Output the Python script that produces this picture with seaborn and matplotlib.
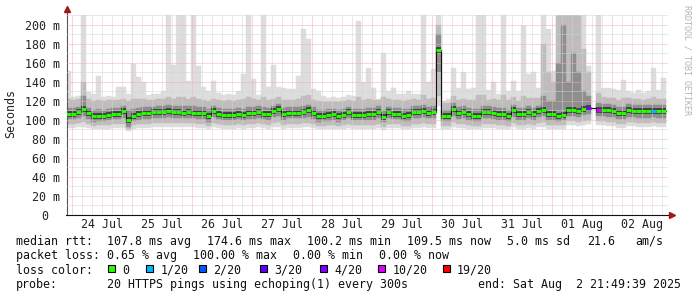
import numpy as np
import pandas as pd
import matplotlib
matplotlib.use("Agg")
import matplotlib.pyplot as plt
import matplotlib.dates as mdates
import matplotlib.transforms as mtransforms
from matplotlib.patches import Rectangle
import seaborn as sns

nan = np.nan

# ---------------- data (2-hour bins starting at 2025-07-23 21:49:39) ----------------
start_time = "2025-07-23 21:49:39"
n_bins = 120

median_ms = [106.5, 106, 108, 112, 107, 103.7, 104.7, 104.7, 105.5, 106,
             106, 109, 100.5, 104.7, 106, 107, 107, 108, 108, 108,
             109.5, 108, 108, 107.5, 108, 107.5, 107, 107, 104, 109.5,
             106.5, 105.5, 105.5, 105.5, 106.5, 105, 107, 107, 108.5, 106.5,
             106, 109.5, 112, 106, 107.5, 107.5, 107.5, 108, 110, 107,
             103.7, 104.7, 105, 106, 103.7, 105.5, 108.5, 105.5, 105.5, 105.5,
             106, 106, 108.5, 103.5, 108.5, 106.5, 106.5, 104.7, 105, 108.5,
             108, 109, 107.5, 108.5, 174, 104.7, 104.7, 112, 107, 108.5,
             106, 104.7, 104, 108, 108, 107, 106, 106, 104, 110,
             106, 106, 108.5, 106, 109, 111, 106, 106, 104.3, 105.5,
             111, 111, 109.5, 112, 113, nan, 111, 110.5, 110, 109,
             107, 107, 110, 109.5, 109, 109, 109, 109.5, 109, 109]

max_ms = [152, 124, 125, 211, 129, 127, 146, 124, 125, 124,
          135, 135, 127, 159, 145, 140, 126, 127, 127, 131,
          211, 158, 211, 211, 141, 211, 157, 135, 130, 141,
          128, 126, 127, 126, 130, 148, 211, 143, 126, 211,
          135, 158, 135, 134, 133, 133, 146, 196, 185, 133,
          130, 125, 123, 124, 123, 124, 126, 125, 204, 140,
          155, 134, 122, 171, 131, 134, 127, 127, 131, 127,
          127, 211, 140, 154, 211, 120, 122, 155, 134, 150,
          133, 134, 211, 211, 132, 140, 127, 211, 130, 141,
          131, 199, 148, 150, 134, 211, 196, 152, 211, 211,
          211, 211, 211, 211, 157, nan, 211, 134, 134, 133,
          132, 142, 130, 128, 132, 128, 130, 155, 132, 144]

p90_ms = [122, 121, 122, 140, 122, 120, 121, 120, 121, 121,
          121, 122, 120, 122, 122, 122, 121, 121, 122, 122,
          124, 122, 124, 124, 122, 124, 122, 121, 120, 122,
          121, 120, 121, 120, 121, 122, 124, 122, 121, 124,
          121, 122, 124, 121, 121, 121, 122, 125, 126, 121,
          120, 119, 119, 119, 119, 120, 121, 120, 124, 121,
          122, 121, 121, 124, 122, 121, 121, 120, 121, 122,
          121, 126, 122, 123, 200, 118, 118, 125, 121, 122,
          121, 121, 126, 126, 121, 122, 121, 126, 121, 124,
          120, 125, 123, 123, 123, 180, 150, 140, 211, 211,
          211, 211, 211, 175, 150, nan, 128, 124, 123, 123,
          121, 123, 123, 122, 122, 121, 122, 124, 122, 122]

p75_ms = [113, 113, 114, 125, 113, 111, 112, 111, 112, 113,
          113, 115, 110, 112, 113, 114, 114, 114, 115, 115,
          116, 115, 115, 115, 115, 115, 114, 114, 112, 115,
          113, 112, 112, 112, 113, 112, 114, 114, 115, 114,
          113, 115, 117, 113, 114, 114, 114, 115, 116, 114,
          111, 111, 112, 112, 111, 112, 114, 112, 112, 112,
          113, 113, 115, 111, 114, 113, 113, 112, 112, 115,
          115, 116, 114, 115, 190, 111, 111, 118, 114, 115,
          113, 112, 112, 115, 115, 114, 113, 113, 111, 116,
          113, 113, 115, 113, 115, 125, 120, 120, 160, 200,
          140, 170, 150, 130, 125, nan, 118, 117, 117, 116,
          114, 114, 117, 116, 116, 116, 116, 116, 116, 116]

p25_ms = [101, 101, 102, 104, 101, 98, 99, 99, 100, 101,
          101, 102, 93, 99, 100, 101, 101, 102, 102, 102,
          103, 102, 102, 102, 102, 102, 101, 101, 98, 103,
          101, 100, 100, 100, 101, 100, 101, 101, 102, 101,
          100, 103, 104, 100, 102, 102, 102, 102, 103, 101,
          98, 99, 99, 100, 98, 100, 102, 100, 100, 100,
          100, 100, 102, 98, 102, 101, 101, 99, 99, 102,
          102, 103, 102, 102, 150, 99, 99, 104, 101, 102,
          100, 99, 99, 102, 102, 101, 100, 100, 99, 103,
          100, 100, 102, 100, 103, 104, 100, 100, 99, 100,
          104, 104, 103, 105, 106, nan, 104, 104, 103, 103,
          101, 101, 103, 103, 102, 102, 102, 103, 102, 102]

p10_ms = [96, 96, 97, 98, 96, 94, 95, 95, 95, 96,
          96, 96, 90, 95, 96, 96, 96, 97, 97, 97,
          97, 97, 97, 97, 97, 97, 96, 96, 94, 97,
          96, 95, 95, 95, 96, 95, 96, 96, 97, 96,
          95, 97, 98, 95, 96, 96, 96, 97, 97, 96,
          94, 94, 95, 95, 94, 95, 96, 95, 95, 95,
          95, 95, 96, 93, 96, 96, 96, 94, 94, 96,
          96, 97, 96, 96, 125, 94, 94, 98, 96, 96,
          95, 94, 94, 96, 96, 96, 95, 95, 94, 97,
          95, 95, 96, 95, 97, 98, 95, 95, 95, 95,
          99, 99, 98, 99, 100, nan, 99, 99, 98, 98,
          96, 96, 98, 98, 97, 97, 97, 98, 97, 97]

min_ms = [92, 92, 93, 93, 92, 90, 91, 91, 91, 92,
          92, 92, 88, 91, 92, 92, 92, 93, 93, 93,
          93, 93, 93, 93, 93, 93, 92, 92, 90, 93,
          92, 91, 91, 91, 92, 91, 92, 92, 93, 92,
          91, 93, 93, 91, 92, 92, 92, 93, 93, 92,
          90, 90, 91, 91, 90, 91, 92, 91, 91, 91,
          91, 91, 92, 89, 92, 92, 92, 90, 90, 92,
          92, 93, 92, 92, 115, 90, 90, 93, 92, 92,
          91, 90, 90, 92, 92, 92, 91, 91, 90, 93,
          91, 91, 92, 91, 93, 93, 91, 91, 91, 91,
          95, 95, 94, 95, 96, nan, 95, 95, 94, 94,
          92, 92, 94, 94, 93, 93, 93, 94, 93, 93]

# loss per bin (out of 20)
loss_per_bin = [0] * 104 + [4, 0, 10] + [0] * 10 + [1, 0, 0]

loss_levels = ["0", "1/20", "2/20", "3/20", "4/20", "10/20", "19/20"]
loss_values = [0, 1, 2, 3, 4, 10, 19]
loss_colors = ["#26ff00", "#00b8ff", "#0059ff", "#5e00ff", "#7e00ff", "#dd00ff", "#ff0000"]

day_labels = ["24 Jul", "25 Jul", "26 Jul", "27 Jul", "28 Jul",
              "29 Jul", "30 Jul", "31 Jul", "01 Aug", "02 Aug"]

stats_row1 = ["median rtt:", "107.8 ms avg", "174.6 ms max", "100.2 ms min",
              "109.5 ms now", "5.0 ms sd", "21.6", "am/s"]
stats_row2 = ["packet loss:", "0.65 % avg", "100.00 % max", "0.00 % min", "0.00 % now"]
probe_text = ["probe:", "20 HTTPS pings using echoping(1) every 300s",
              "end: Sat Aug  2 21:49:39 2025"]

# ---------------- figure ----------------
sns.set_style("white")
plt.rcParams['font.family'] = ['DejaVu Sans Mono']
FS = 8.35
W, H = 697, 297

fig = plt.figure(figsize=(W / 100, H / 100), dpi=100)
ax_l, ax_r, ax_b, ax_t = 66.5, 668.0, 215.0, 14.5
ax = fig.add_axes([ax_l / W, 1 - ax_b / H, (ax_r - ax_l) / W, (ax_b - ax_t) / H])

times = pd.date_range(start_time, periods=n_bins, freq="2h")
x = mdates.date2num(times.to_pydatetime())
w = 2 / 24.0
x_end = x + w

med = np.array(median_ms, float)
hi = np.array(max_ms, float)
lo = np.array(min_ms, float)
p90 = np.array(p90_ms, float)
p10 = np.array(p10_ms, float)
p75 = np.array(p75_ms, float)
p25 = np.array(p25_ms, float)

# smoke bands
kw = dict(width=w, align="edge", linewidth=0.3, zorder=1)
ax.bar(x, hi - lo, bottom=lo, color="#dddddd", edgecolor="#dddddd", **kw)
ax.bar(x, p90 - p10, bottom=p10, color="#bdbdbd", edgecolor="#bdbdbd", **kw)
ax.bar(x, p75 - p25, bottom=p25, color="#8e8e8e", edgecolor="#8e8e8e", **kw)
ax.hlines(med, x, x_end, colors="#404040", lw=4.2, zorder=1.5)

# median connecting line (black steps)
df = pd.DataFrame({"t": np.append(x, x_end[-1]), "median": np.append(med, med[-1])})
sns.lineplot(data=df, x="t", y="median", drawstyle="steps-post", color="#111111",
             lw=0.8, ax=ax, zorder=2.8, sort=False, legend=False)

# median coloured by loss
col_map = dict(zip(loss_values, loss_colors))
seg_colors = [col_map[v] for v in loss_per_bin]
ax.hlines(med, x, x_end, colors=seg_colors, lw=2.1, zorder=3)

# axes limits
x0 = x[0]
ax.set_xlim(x0, x0 + (ax_r - ax_l) / 60.0)
ax.set_ylim(0, 211)
ax.set_xlabel("")
ax.set_ylabel("")

# grid
ax.xaxis.set_major_locator(mdates.DayLocator())
ax.xaxis.set_minor_locator(mdates.HourLocator(byhour=range(0, 24, 4)))
ax.set_yticks(np.arange(0, 201, 20))
ax.set_yticks(np.arange(10, 211, 20), minor=True)
ax.set_axisbelow(False)
ax.grid(which="major", color="#ebb3b3", linestyle=(0, (1, 1)), lw=0.72)
ax.grid(which="minor", color="#d4d4d4", linestyle=(0, (1, 1)), lw=0.72)

ax.set_yticklabels([f"{int(v)} m" if v > 0 else "" for v in np.arange(0, 201, 20)])
ax.tick_params(axis="y", which="major", length=3, width=0.75, color="#333333",
               labelsize=FS, pad=1.5, labelcolor="#222222")
ax.tick_params(axis="y", which="minor", length=0)
ax.tick_params(axis="x", which="major", length=2.5, width=0.75, color="#d04040",
               labelbottom=False)
ax.tick_params(axis="x", which="minor", length=1.2, width=0.75, color="#bbbbbb")

for s in ["top", "right"]:
    ax.spines[s].set_visible(False)
ax.spines["left"].set_color("#555555")
ax.spines["bottom"].set_color("#111111")
ax.spines["left"].set_linewidth(0.8)
ax.spines["bottom"].set_linewidth(0.8)

# axis extensions and arrows
tr_ax = ax.transAxes
ax.plot([0, 0], [1, 1.02], color="#555555", lw=0.8, transform=tr_ax, clip_on=False)
ax.plot([1, 1.006], [0, 0], color="#111111", lw=0.8, transform=tr_ax, clip_on=False)
ax.plot([0], [1.025], marker="^", ms=4.5, color="#a01818", transform=tr_ax, clip_on=False)
ax.plot([1.006], [0], marker=">", ms=4.5, color="#a01818", transform=tr_ax, clip_on=False)

# "0" y label
ax.text(-21.5 / (ax_r - ax_l), 0, "0", transform=mtransforms.blended_transform_factory(tr_ax, ax.transData),
        ha="center", va="center_baseline", fontsize=FS, color="#222222")

# day labels at noon
blend = mtransforms.blended_transform_factory(ax.transData, tr_ax)
noons = pd.date_range("2025-07-24 12:00", periods=len(day_labels), freq="D")
for d, lab in zip(noons, day_labels):
    ax.text(mdates.date2num(d.to_pydatetime()), -(228.3 - ax_b) / (ax_b - ax_t), lab,
            transform=blend, ha="center", va="baseline", fontsize=FS, color="#222222")

# y label and watermark
fig.text(10.8 / W, 1 - 113.5 / H, "Seconds", rotation=90, ha="center", va="center",
         fontsize=FS, color="#222222")
fig.text(687 / W, 1 - 5 / H, "RRDTOOL / TOBI OETIKER", rotation=270, ha="center", va="top",
         fontsize=6.0, color="#b4b4b4")


def ftext(xp, yp, s, **k):
    fig.text(xp / W, 1 - yp / H, s, ha="left", va="baseline", fontsize=FS, color="#111111", **k)


row1_x = [16, 107.3, 207.3, 307.3, 407.3, 507.3, 586.7, 635]
for xp, s in zip(row1_x, stats_row1):
    ftext(xp, 245, s)
row2_x = [16, 107.3, 193.3, 293.3, 379.3]
for xp, s in zip(row2_x, stats_row2):
    ftext(xp, 259.3, s)

ftext(16, 273.5, "loss color:")
box_x = [108.3, 146, 199.3, 260, 320, 378.3, 442.7]
for bx, lab, c in zip(box_x, loss_levels, loss_colors):
    fig.patches.append(Rectangle((bx / W, 1 - 271.5 / H), 6.8 / W, 6.8 / H,
                                 transform=fig.transFigure, facecolor=c,
                                 edgecolor="black", lw=0.8, figure=fig))
    ftext(bx + 14.3, 273.5, lab)

probe_x = [16, 107.3, 478.3]
for xp, s in zip(probe_x, probe_text):
    ftext(xp, 287.7, s)

fig.savefig("out.png", dpi=100, facecolor="white")
